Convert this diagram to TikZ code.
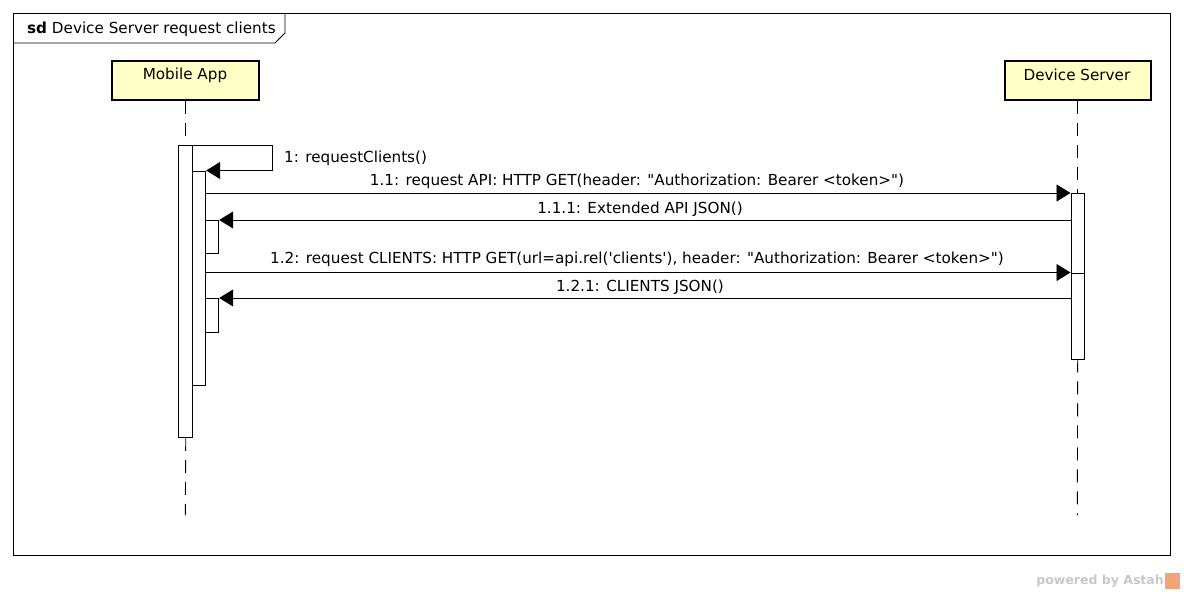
\documentclass[tikz,border=0pt]{standalone}
\usepackage{fontspec}
\newfontfamily\df{DejaVu Sans}
\usetikzlibrary{arrows.meta}
\definecolor{lifefill}{HTML}{FFFFC6}
\definecolor{astahgray}{HTML}{C8C8C8}
\definecolor{astahorange}{HTML}{F0A478}
\begin{document}
\begin{tikzpicture}[x=1pt,y=-1pt,
  font=\df\fontsize{15.2}{18}\selectfont,
  lifebox/.style={draw, line width=2pt, fill=lifefill, anchor=north west, inner sep=0pt},
  actbox/.style={draw, line width=0.9pt, fill=white, anchor=north west, inner sep=0pt},
  lifeline/.style={line width=0.9pt, dash pattern=on 13pt off 9pt},
  msg/.style={line width=0.9pt, -{Triangle[length=14pt,width=17pt]}},
  lbl/.style={inner sep=0pt}]
\useasboundingbox (0,0) rectangle (1184,594);
% frame
\node[draw, line width=0.9pt, anchor=north west, minimum width=1157pt, minimum height=542pt, inner sep=0pt] (frame) at (13,13) {};
\draw[line width=0.9pt] (13,43) coordinate (t1) -- (275,43) coordinate (t2) -- (285,33) coordinate (t3) -- (285,13) coordinate (t4);
\node[lbl, anchor=west] (title) at (27,29.5) {\textbf{sd} Device Server request clients};
% lifeline heads
\node[lifebox, minimum width=147pt, minimum height=39pt] (mob) at (111,60) {};
\node[lbl] (mobt) at (185,75) {Mobile App};
\node[lifebox, minimum width=146pt, minimum height=39pt] (dev) at (1004,60) {};
\node[lbl] (devt) at (1077,75) {Device Server};
% activations
\node[actbox, minimum width=14pt, minimum height=292pt] (a1) at (178.3,145) {};
\node[actbox, minimum width=13pt, minimum height=214pt] (a2) at (192.3,170.5) {};
\node[actbox, minimum width=13pt, minimum height=33pt] (r1) at (205.3,220) {};
\node[actbox, minimum width=13pt, minimum height=34pt] (r2) at (205.3,298) {};
\node[actbox, minimum width=13.5pt, minimum height=79.5pt] (d1) at (1070.5,193) {};
\node[actbox, minimum width=13.5pt, minimum height=86pt] (d2) at (1070.5,272.5) {};
% lifelines
\coordinate (mend) at (185.3,515);
\coordinate (dend) at (1077.3,515);
\draw[lifeline] (mob.south -| a1.north) -- (a1.north);
\draw[lifeline] (a1.south) -- (mend);
\draw[lifeline] (dev.south -| d1.north) -- (d1.north);
\draw[lifeline] (d2.south) -- (dend);
% messages
\coordinate (s1) at (272.5,145);
\coordinate (s2) at (272.5,170.5);
\draw[msg] (a1.north east) -- (s1) -- (s2) -- (a2.north east);
\node[lbl, anchor=west] (l1) at (284,158.5) {1: requestClients()};
\draw[msg] (a2.east |- d1.north) -- (d1.north west);
\node[lbl] (l11) at (637,181.5) {1.1: request API: HTTP GET(header: "Authorization: Bearer <token>")};
\draw[msg] (d1.west |- r1.north) -- (r1.north east);
\node[lbl] (l111) at (640,209.5) {1.1.1: Extended API JSON()};
\draw[msg] (a2.east |- d2.north) -- (d2.north west);
\node[lbl] (l12) at (637,259.5) {1.2: request CLIENTS: HTTP GET(url=api.rel('clients'), header: "Authorization: Bearer <token>")};
\draw[msg] (d2.west |- r2.north) -- (r2.north east);
\node[lbl] (l121) at (640,287.5) {1.2.1: CLIENTS JSON()};
% watermark
\node[lbl, anchor=east, text=astahgray, font=\df\bfseries\fontsize{12.5}{14}\selectfont] (wm) at (1164,581) {powered by Astah};
\node[fill=astahorange, minimum width=15pt, minimum height=16pt, inner sep=0pt, anchor=west] (logo) at (1165,581) {};
\end{tikzpicture}
\end{document}
